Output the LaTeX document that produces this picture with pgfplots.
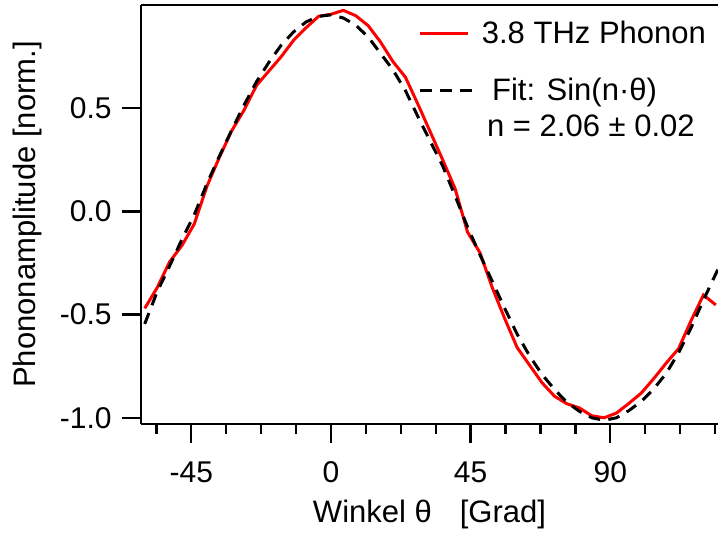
\documentclass[border=0pt]{standalone}
\usepackage{pgfplots}
\pgfplotsset{compat=1.18}
\usepackage{fontspec}
\setmainfont{Liberation Sans}
\pgfplotstableread{
t y
-60 -0.47
-56 -0.37
-52 -0.245
-48 -0.165
-44 -0.06
-40 0.12
-36 0.26
-32 0.39
-28 0.49
-24 0.61
-20 0.68
-16 0.75
-12 0.83
-8 0.89
-4 0.945
0 0.955
4 0.974
8 0.948
12 0.90
16 0.82
20 0.725
24 0.65
28 0.52
32 0.385
36 0.25
40 0.11
44 -0.10
48 -0.20
52 -0.37
56 -0.52
60 -0.66
64 -0.745
68 -0.83
72 -0.895
76 -0.932
80 -0.952
84 -0.99
88 -1.0
92 -0.977
96 -0.93
100 -0.88
104 -0.81
108 -0.735
112 -0.665
116 -0.53
120 -0.405
124 -0.453
}\phonon
\pgfplotstableread{
t y
-60 -0.545
-56 -0.39
-52 -0.265
-48 -0.135
-44 -0.015
-40 0.133
-36 0.266
-32 0.393
-28 0.515
-24 0.628
-20 0.722
-16 0.806
-12 0.870
-8 0.918
-4 0.945
0 0.952
4 0.937
8 0.902
12 0.845
16 0.765
20 0.685
24 0.585
28 0.460
32 0.34
36 0.22
40 0.075
44 -0.075
48 -0.21
52 -0.34
56 -0.47
60 -0.595
64 -0.70
68 -0.79
72 -0.862
76 -0.925
80 -0.968
84 -1.0
88 -1.012
92 -1.0
96 -0.965
100 -0.92
104 -0.86
108 -0.785
112 -0.685
116 -0.565
120 -0.43
124.7 -0.28
}\fit
\begin{document}
\fontsize{15pt}{18pt}\selectfont
\begin{tikzpicture}
\begin{axis}[
  scale only axis, width=288.5pt, height=209.5pt,
  xmin=-61.2, xmax=124.7, ymin=-1.03, ymax=1.0,
  axis lines=left, axis line style={-, line width=1pt, black},
  clip mode=individual,
  tick align=outside,
  major tick length=9.5pt, minor tick length=5pt,
  tick style={line width=1.2pt, black},
  xtick={-45,0,45,90}, xticklabels={-45,0,45,90},
  minor xtick={-56.25,-33.75,-22.5,-11.25,11.25,22.5,33.75,56.25,67.5,78.75,101.25,112.5,123.75},
  ytick={-1,-0.5,0,0.5}, yticklabels={-1.0,-0.5,0.0,0.5},
  ticklabel style={font=\fontsize{15pt}{18pt}\selectfont},
  xticklabel style={yshift=-4pt},
  xlabel={Winkel θ\hspace{14pt}[Grad]},
  ylabel={Phononamplitude [norm.]},
  label style={font=\fontsize{15.5pt}{18pt}\selectfont},
  xlabel style={at={(axis description cs:0.5,0)}, anchor=base, yshift=-49.5pt},
  ylabel style={at={(axis description cs:-0.197,0.5)}, anchor=center},
]
\addplot[red, line width=1.5pt] table[x=t, y=y] {\phonon};
\addplot[black, line width=1.5pt, dash pattern=on 5.8pt off 4.2pt] table[x=t, y=y] {\fit};
\draw[line width=1pt] (rel axis cs:0,1) -- (rel axis cs:1,1);
\draw[red, line width=1.5pt] (axis cs:28.7,0.863) -- (axis cs:44.1,0.863);
\node[anchor=base west, inner sep=0pt, font=\fontsize{15.5pt}{18pt}\selectfont] at (axis cs:48.5,0.814) {3.8 THz Phonon};
\draw[black, line width=1.5pt, dash pattern=on 5.8pt off 4.2pt] (axis cs:28.7,0.587) -- (axis cs:45.7,0.587);
\node[anchor=base west, inner sep=0pt, font=\fontsize{15.5pt}{18pt}\selectfont] at (axis cs:51.8,0.538) {Fit: Sin(n·θ)};
\node[anchor=base west, inner sep=0pt, font=\fontsize{15.5pt}{18pt}\selectfont] at (axis cs:50.2,0.364) {n = 2.06 ± 0.02};
\end{axis}
\pgfresetboundingbox
\path[use as bounding box] (-70.5pt,-54.5pt) rectangle (288.5pt,212pt);
\end{tikzpicture}
\end{document}
